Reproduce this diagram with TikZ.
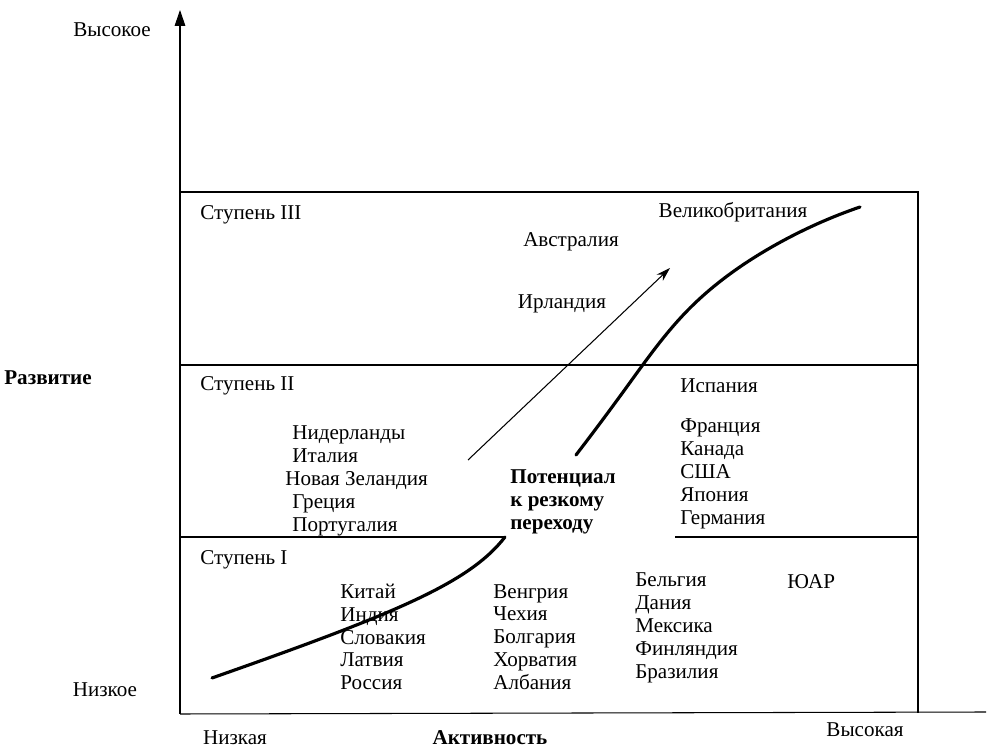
\documentclass[tikz,border=0pt]{standalone}
\usepackage{fontspec}
\setmainfont{Liberation Serif}
\usepackage{tikz}
\usetikzlibrary{hobby,arrows.meta}

\begin{document}
\begin{tikzpicture}[x=0.02cm,y=-0.02cm,
	txt/.style={inner sep=0pt,font=\fontsize{12}{13}\selectfont},
	lft/.style={txt,anchor=west,align=left},
	bld/.style={txt,font=\fontsize{12}{13}\selectfont\bfseries},
	frame/.style={line width=0.6pt},
	trend/.style={line width=1.8pt,line cap=round}]
	\useasboundingbox (0,0) rectangle (988,749);

	% axes
	\coordinate (o) at (180,714);
	\coordinate (ytop) at (180,10);
	\coordinate (xend) at (986,712);
	\draw[frame,-{Triangle[length=9pt,width=6pt]}] (o) -- (ytop);
	\draw[frame] (o) -- (xend);

	% stages
	\draw[frame] (180,192) -- (918,192) -- (918,713);
	\draw[frame] (180,365) -- (918,365);
	\draw[frame] (180,537) -- (505,537);
	\draw[frame] (675,537) -- (918,537);

	% axis labels
	\node[txt] (high) at (112,30) {Высокое};
	\node[bld] (dev) at (48,378) {Развитие};
	\node[txt] (low) at (105,690) {Низкое};
	\node[txt] (lowact) at (235,738) {Низкая};
	\node[bld] (act) at (490,738) {Активность};
	\node[txt] (highact) at (865,730) {Высокая};

	% stage III
	\node[lft] (st3) at (200,215) {Ступень III};
	\node[txt] (gb) at (733,212) {Великобритания};
	\node[txt] (aus) at (571,242) {Австралия};
	\node[txt] (irl) at (562,304) {Ирландия};

	% stage II
	\node[lft] (st2) at (200,386) {Ступень II};
	\node[lft] (esp) at (680,386) {Испания};
	\node[lft] (grpA) at (292,481) {Нидерланды\\Италия\\\hspace*{-4pt}Новая Зеландия\\Греция\\Португалия};
	\node[bld,anchor=west,align=left] (pot) at (510,502) {Потенциал\\к резкому\\переходу};
	\node[lft] (grpB) at (680,474) {Франция\\Канада\\США\\Япония\\Германия};

	% stage I
	\node[lft] (st1) at (200,560) {Ступень I};
	\node[lft] (grpC) at (340,637) {Китай\\Индия\\Словакия\\Латвия\\Россия};
	\node[lft] (grpD) at (493,637) {Венгрия\\Чехия\\Болгария\\Хорватия\\Албания};
	\node[lft] (grpE) at (635,628) {Бельгия\\Дания\\Мексика\\Финляндия\\Бразилия};
	\node[lft] (rsa) at (787,582) {ЮАР};

	% curve and jump
	\coordinate (c1) at (212,678);
	\coordinate (c4) at (505,537);
	\coordinate (d1) at (576,455);
	\coordinate (d2) at (626,388);
	\coordinate (d3) at (688,310);
	\coordinate (d4) at (770,248);
	\coordinate (d5) at (860,207);
	\draw[trend] (c1) .. controls (400,612) and (470,582) .. (c4);
	\draw[trend,use Hobby shortcut] (d1) .. (d2) .. (d3) .. (d4) .. (d5);

	\coordinate (a1) at (468,460);
	\coordinate (a2) at (670,268);
	\draw[line width=0.6pt,-{Stealth[length=8pt,width=5pt]}] (a1) -- (a2);
\end{tikzpicture}
\end{document}
